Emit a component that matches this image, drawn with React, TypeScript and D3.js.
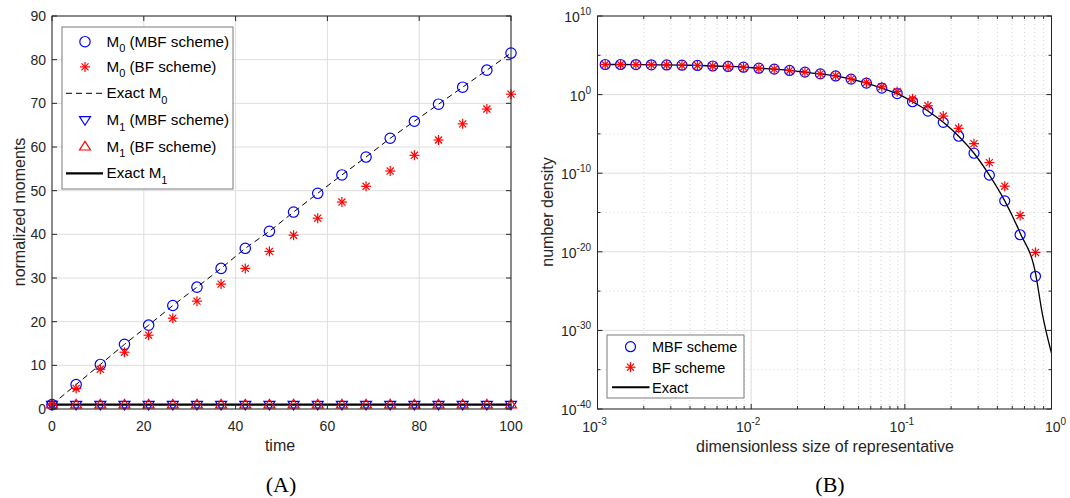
import React from 'react';
import * as d3 from 'd3';

// ---------- Panel A data ----------
const timePoints = [0, 5.26, 10.53, 15.79, 21.05, 26.32, 31.58, 36.84, 42.11, 47.37, 52.63, 57.89, 63.16, 68.42, 73.68, 78.95, 84.21, 89.47, 94.74, 100];
const m0MBF = [1, 5.6, 10.2, 14.8, 19.2, 23.7, 27.9, 32.2, 36.8, 40.7, 45.1, 49.4, 53.6, 57.7, 62, 65.9, 69.8, 73.7, 77.6, 81.5];
const m0BF = [1, 4.7, 9.1, 13, 16.9, 20.8, 24.7, 28.6, 32.2, 36.1, 39.8, 43.7, 47.4, 51, 54.5, 58.1, 61.6, 65.3, 68.7, 72.1];
const m1MBF = [1, 1, 1, 1, 1, 1, 1, 1, 1, 1, 1, 1, 1, 1, 1, 1, 1, 1, 1, 1];
const m1BF = [1, 1, 1, 1, 1, 1, 1, 1, 1, 1, 1, 1, 1, 1, 1, 1, 1, 1, 1, 1];
const exactM0 = [1, 5.6, 10.2, 14.8, 19.2, 23.7, 27.9, 32.2, 36.8, 40.7, 45.1, 49.4, 53.6, 57.7, 62, 65.9, 69.8, 73.7, 77.6, 81.5];
const exactM1Time = [0, 100];
const exactM1 = [1, 1];
const leftXTicks = [0, 20, 40, 60, 80, 100];
const leftYTicks = [0, 10, 20, 30, 40, 50, 60, 70, 80, 90];

// ---------- Panel B data ----------
const sizes = [0.001122, 0.001413, 0.001778, 0.002239, 0.002818, 0.003548, 0.004467, 0.005623, 0.007079, 0.008913,
  0.01122, 0.01413, 0.01778, 0.02239, 0.02818, 0.03548, 0.04467, 0.05623, 0.07079, 0.08913,
  0.1122, 0.1413, 0.1778, 0.2239, 0.2818, 0.3548, 0.4467, 0.5623, 0.7079];
const mbfLog10 = [3.83, 3.83, 3.82, 3.79, 3.77, 3.74, 3.71, 3.64, 3.58, 3.49,
  3.36, 3.24, 3.07, 2.86, 2.64, 2.37, 1.97, 1.46, 0.82, 0.13,
  -0.91, -2.09, -3.53, -5.30, -7.46, -10.25, -13.52, -17.83, -23.12];
const bfLog10 = [3.83, 3.83, 3.82, 3.79, 3.77, 3.74, 3.71, 3.64, 3.58, 3.49,
  3.36, 3.24, 3.07, 2.86, 2.64, 2.39, 2.0, 1.55, 1.0, 0.4,
  -0.55, -1.42, -2.73, -4.29, -6.24, -8.65, -11.65, -15.38, -20.08];
const exactSizes = [0.001122, 0.001413, 0.001778, 0.002239, 0.002818, 0.003548, 0.004467, 0.005623, 0.007079, 0.008913,
  0.01122, 0.01413, 0.01778, 0.02239, 0.02818, 0.03548, 0.04467, 0.05623, 0.07079, 0.08913,
  0.1122, 0.1413, 0.1778, 0.2239, 0.2818, 0.3548, 0.4467, 0.5623, 0.7079, 0.783, 0.9];
const exactLog10 = [3.83, 3.83, 3.82, 3.79, 3.77, 3.74, 3.71, 3.64, 3.58, 3.49,
  3.36, 3.24, 3.07, 2.86, 2.64, 2.37, 1.97, 1.46, 0.82, 0.13,
  -0.91, -2.09, -3.53, -5.30, -7.46, -10.25, -13.52, -17.6, -22.7, -27.8, -32.9];
const rightXTickExp = [-3, -2, -1, 0];
const rightYTickExp = [10, 0, -10, -20, -30, -40];
const rightYMinorExp = [5, -5, -15, -25, -35];

const AX = '#262626';
const GRID = '#dedede';
const BLUE = '#0000ff';
const RED = '#ff0000';
const FONT = '"Liberation Sans", Arial, Helvetica, sans-serif';

const Circle = ({ x, y, r = 5 }: any) => <circle cx={x} cy={y} r={r} fill="none" stroke={BLUE} strokeWidth={1.2} />;
const Star = ({ x, y, r = 5 }: any) => {
  const d = r * 0.7071;
  return (
    <g stroke={RED} strokeWidth={1.2}>
      <line x1={x - r} y1={y} x2={x + r} y2={y} />
      <line x1={x} y1={y - r} x2={x} y2={y + r} />
      <line x1={x - d} y1={y - d} x2={x + d} y2={y + d} />
      <line x1={x - d} y1={y + d} x2={x + d} y2={y - d} />
    </g>
  );
};
const Tri = ({ x, y, down, color, s = 5.5 }: any) => {
  const pts = down
    ? `${x - s},${y - s * 0.6} ${x + s},${y - s * 0.6} ${x},${y + s * 0.95}`
    : `${x - s},${y + s * 0.6} ${x + s},${y + s * 0.6} ${x},${y - s * 0.95}`;
  return <polygon points={pts} fill="none" stroke={color} strokeWidth={1.2} />;
};

const Pow10 = ({ x, y, exp, anchor }: any) => (
  <text x={x} y={y} textAnchor={anchor} fontFamily={FONT} fontSize={14} fill={AX}>
    10<tspan dy={-7} fontSize={10}>{exp}</tspan>
  </text>
);

export default function App() {
  // Panel A scales
  const xL = d3.scaleLinear().domain([0, 100]).range([52, 511]);
  const yL = d3.scaleLinear().domain([0, 90]).range([409, 16]);
  // Panel B scales
  const xR = d3.scaleLog().domain([1e-3, 0.9]).range([597.5, 1051.5]);
  const yR = d3.scaleLinear().domain([-40, 10]).range([409, 16]);

  const dashedLine = d3.line<number>().x((_, i) => xL(timePoints[i])).y((d) => yL(d))(exactM0) || '';
  const m1Line = d3.line<number>().x((_, i) => xL(exactM1Time[i])).y((d) => yL(d))(exactM1) || '';
  const exactCurve = d3.line<number>()
    .x((_, i) => xR(exactSizes[i])).y((d) => yR(d))
    .curve(d3.curveMonotoneX)(exactLog10) || '';

  const xMinor: number[] = [];
  for (let e = -3; e <= -1; e++) for (let m = 2; m <= 9; m++) {
    const v = m * Math.pow(10, e);
    if (v <= 0.9) xMinor.push(v);
  }
  const xMajor = rightXTickExp.map((e) => Math.pow(10, e)).filter((v) => v <= 0.9);

  const [l0, l1] = [xL.range()[0], xL.range()[1]];
  const [t0, b0] = [yL.range()[1], yL.range()[0]];
  const [rl, rr] = [xR.range()[0], xR.range()[1]];
  const tk = 5;

  const legRowsA = [41.7, 66.9, 93.3, 120, 146.7, 173.3];
  const legRowsB = [346.7, 367.2, 387.2];

  return (
    <svg width={1070} height={498} style={{ position: 'absolute', left: 0, top: 0, background: '#fff' }}>
      <rect x={0} y={0} width={1070} height={498} fill="#fff" />
      {/* ============ PANEL A ============ */}
      <g>
        {leftXTicks.map((t) => <line key={'gx' + t} x1={xL(t)} x2={xL(t)} y1={t0} y2={b0} stroke={GRID} strokeWidth={1} />)}
        {leftYTicks.map((t) => <line key={'gy' + t} x1={l0} x2={l1} y1={yL(t)} y2={yL(t)} stroke={GRID} strokeWidth={1} />)}
        <path d={dashedLine} fill="none" stroke="#000" strokeWidth={1} strokeDasharray="6,4" />
        <path d={m1Line} fill="none" stroke="#000" strokeWidth={2.2} />
        {timePoints.map((t, i) => <Circle key={'c' + i} x={xL(t)} y={yL(m0MBF[i])} r={5.2} />)}
        {timePoints.map((t, i) => <Star key={'s' + i} x={xL(t)} y={yL(m0BF[i])} r={5} />)}
        {timePoints.map((t, i) => <Tri key={'tv' + i} x={xL(t)} y={yL(m1MBF[i])} down color={BLUE} />)}
        {timePoints.map((t, i) => <Tri key={'tu' + i} x={xL(t)} y={yL(m1BF[i])} color={RED} />)}
        <rect x={l0} y={t0} width={l1 - l0} height={b0 - t0} fill="none" stroke={AX} strokeWidth={1} />
        {leftXTicks.map((t) => (
          <g key={'tx' + t}>
            <line x1={xL(t)} x2={xL(t)} y1={b0} y2={b0 - tk} stroke={AX} />
            <line x1={xL(t)} x2={xL(t)} y1={t0} y2={t0 + tk} stroke={AX} />
            <text x={xL(t)} y={431} textAnchor="middle" fontFamily={FONT} fontSize={14} fill={AX}>{t}</text>
          </g>
        ))}
        {leftYTicks.map((t) => (
          <g key={'ty' + t}>
            <line x1={l0} x2={l0 + tk} y1={yL(t)} y2={yL(t)} stroke={AX} />
            <line x1={l1} x2={l1 - tk} y1={yL(t)} y2={yL(t)} stroke={AX} />
            <text x={46} y={yL(t) + 5} textAnchor="end" fontFamily={FONT} fontSize={14} fill={AX}>{t}</text>
          </g>
        ))}
        <text x={280} y={451} textAnchor="middle" fontFamily={FONT} fontSize={16} fill={AX}>time</text>
        <text transform={`translate(25,212) rotate(-90)`} textAnchor="middle" fontFamily={FONT} fontSize={16} fill={AX}>normalized moments</text>
        <rect x={62} y={27} width={171} height={162} fill="#fff" stroke="#7a7a7a" strokeWidth={1} />
        <Circle x={85} y={legRowsA[0]} r={5.2} />
        <Star x={85} y={legRowsA[1]} r={5} />
        <line x1={66} x2={103} y1={legRowsA[2]} y2={legRowsA[2]} stroke="#000" strokeDasharray="6,4" />
        <Tri x={85} y={legRowsA[3]} down color={BLUE} />
        <Tri x={85} y={legRowsA[4]} color={RED} />
        <line x1={66} x2={103} y1={legRowsA[5]} y2={legRowsA[5]} stroke="#000" strokeWidth={2.2} />
        {[
          ['M', '0', ' (MBF scheme)'],
          ['M', '0', ' (BF scheme)'],
          ['Exact M', '0', ''],
          ['M', '1', ' (MBF scheme)'],
          ['M', '1', ' (BF scheme)'],
          ['Exact M', '1', ''],
        ].map(([a, sub, b], i) => (
          <text key={'lt' + i} x={106.5} y={legRowsA[i] + 5} fontFamily={FONT} fontSize={15.2} fill="#000">
            {a}<tspan dy={5.5} fontSize={11}>{sub}</tspan><tspan dy={-5.5}>{b}</tspan>
          </text>
        ))}
      </g>

      {/* ============ PANEL B ============ */}
      <g>
        {xMinor.map((v, i) => <line key={'mgx' + i} x1={xR(v)} x2={xR(v)} y1={t0} y2={b0} stroke="#d4d4d4" strokeWidth={1} strokeDasharray="1,3" />)}
        {rightYMinorExp.map((e) => <line key={'mgy' + e} x1={rl} x2={rr} y1={yR(e)} y2={yR(e)} stroke="#d4d4d4" strokeWidth={1} strokeDasharray="1,3" />)}
        {xMajor.map((v, i) => <line key={'gx' + i} x1={xR(v)} x2={xR(v)} y1={t0} y2={b0} stroke={GRID} strokeWidth={1} />)}
        {rightYTickExp.map((e) => <line key={'gy' + e} x1={rl} x2={rr} y1={yR(e)} y2={yR(e)} stroke={GRID} strokeWidth={1} />)}
        <path d={exactCurve} fill="none" stroke="#000" strokeWidth={1.3} />
        {sizes.map((s, i) => <Circle key={'rc' + i} x={xR(s)} y={yR(mbfLog10[i])} r={5} />)}
        {sizes.map((s, i) => <Star key={'rs' + i} x={xR(s)} y={yR(bfLog10[i])} r={5} />)}
        <rect x={rl} y={t0} width={rr - rl} height={b0 - t0} fill="none" stroke={AX} strokeWidth={1} />
        {xMinor.map((v, i) => (
          <g key={'mtx' + i}>
            <line x1={xR(v)} x2={xR(v)} y1={b0} y2={b0 - 3} stroke={AX} />
            <line x1={xR(v)} x2={xR(v)} y1={t0} y2={t0 + 3} stroke={AX} />
          </g>
        ))}
        {xMajor.map((v, i) => (
          <g key={'tx' + i}>
            <line x1={xR(v)} x2={xR(v)} y1={b0} y2={b0 - tk} stroke={AX} />
            <line x1={xR(v)} x2={xR(v)} y1={t0} y2={t0 + tk} stroke={AX} />
          </g>
        ))}
        {rightXTickExp.map((e) => (
          <Pow10 key={'xl' + e} x={xR(Math.pow(10, e)) - 3} y={432} exp={e} anchor="middle" />
        ))}
        {rightYMinorExp.map((e) => (
          <g key={'mty' + e}>
            <line x1={rl} x2={rl + 3} y1={yR(e)} y2={yR(e)} stroke={AX} />
            <line x1={rr} x2={rr - 3} y1={yR(e)} y2={yR(e)} stroke={AX} />
          </g>
        ))}
        {rightYTickExp.map((e) => (
          <g key={'ty' + e}>
            <line x1={rl} x2={rl + tk} y1={yR(e)} y2={yR(e)} stroke={AX} />
            <line x1={rr} x2={rr - tk} y1={yR(e)} y2={yR(e)} stroke={AX} />
            <Pow10 x={591} y={yR(e) + 6} exp={e} anchor="end" />
          </g>
        ))}
        <text x={825} y={452} textAnchor="middle" fontFamily={FONT} fontSize={16} fill={AX}>dimensionless size of representative</text>
        <text transform={`translate(553,212) rotate(-90)`} textAnchor="middle" fontFamily={FONT} fontSize={16} fill={AX}>number density</text>
        <rect x={607} y={335} width={137} height={63} fill="#fff" stroke="#7a7a7a" strokeWidth={1} />
        <Circle x={630.5} y={legRowsB[0]} r={5} />
        <Star x={630.5} y={legRowsB[1]} r={5} />
        <line x1={612} x2={649.5} y1={legRowsB[2]} y2={legRowsB[2]} stroke="#000" strokeWidth={2} />
        {['MBF scheme', 'BF scheme', 'Exact'].map((t, i) => (
          <text key={'lb' + i} x={652} y={legRowsB[i] + 5.5} fontFamily={FONT} fontSize={14.5} fill="#000">{t}</text>
        ))}
      </g>

      <text x={281} y={492} textAnchor="middle" fontFamily='"Liberation Serif", "Times New Roman", serif' fontSize={22} fill="#000">(A)</text>
      <text x={830} y={492} textAnchor="middle" fontFamily='"Liberation Serif", "Times New Roman", serif' fontSize={22} fill="#000">(B)</text>
    </svg>
  );
}
